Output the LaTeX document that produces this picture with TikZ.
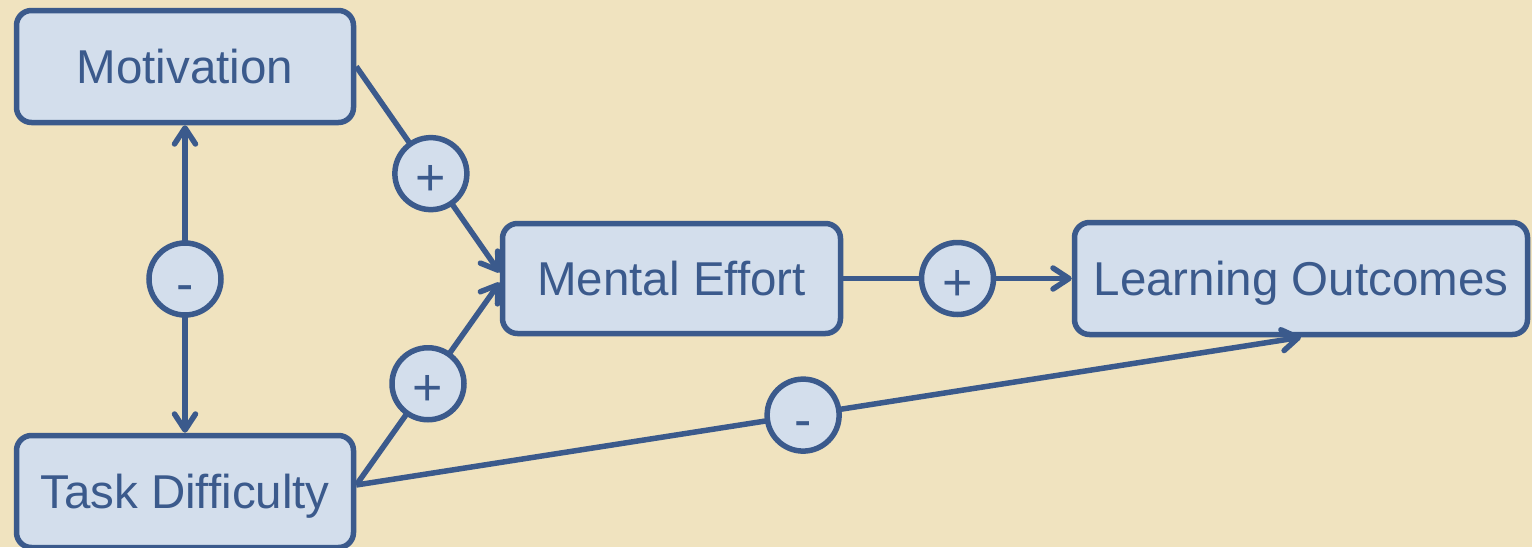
\documentclass[tikz,border=0pt]{standalone}
\usepackage{fontspec}
\setmainfont{Liberation Sans}
\usetikzlibrary{arrows.meta}
\definecolor{bgtan}{RGB}{240,227,191}
\definecolor{boxfill}{RGB}{211,222,236}
\definecolor{ink}{RGB}{59,90,140}
\tikzset{
  concept/.style={draw=ink, fill=boxfill, line width=5.5pt, rounded corners=15pt,
    inner sep=0pt, text=ink, font=\fontsize{47.5}{56}\selectfont,
    text height=34pt, text depth=0pt},
  sign/.style={circle, draw=ink, fill=boxfill, line width=5.5pt, inner sep=0pt,
    minimum size=72pt, text=ink, font=\fontsize{52}{60}\selectfont,
    text height=44pt, text depth=0pt},
  link/.style={draw=ink, line width=5.5pt},
  barb/.tip={Straight Barb[length=16pt,width=21pt,round]},
  tip/.style={-barb},
  tips/.style={barb-barb}
}
\begin{document}
\begin{tikzpicture}[x=1pt,y=-1pt]
  \fill[bgtan] (0,0) rectangle (1532,547);
  \useasboundingbox (0,0) rectangle (1532,547);
  \clip (0,0) rectangle (1532,547);

  % concept boxes
  \node[concept, minimum width=337pt, minimum height=112pt] (mot) at (185,66.5) {Motivation};
  \node[concept, minimum width=337pt, minimum height=112pt] (td) at (185,491.5) {Task Difficulty};
  \node[concept, minimum width=338pt, minimum height=110pt] (me) at (671.5,278.5) {Mental Effort};
  \node[concept, minimum width=453pt, minimum height=112pt] (lo) at (1301,278.5) {Learning Outcomes};

  % relations with their signs
  \draw[link, tips] (mot.south) -- (td.north)
    node[sign, pos=0.5] (s1) {-};
  \draw[link, tip] (mot.east) -- ([yshift=6pt]me.west)
    node[sign, pos=0.52] (s2) {+};
  \draw[link, tip] ([yshift=6.5pt]td.east) -- ([yshift=-4pt]me.west)
    node[sign, pos=0.5] (s3) {+};
  \draw[link, tip] (me.east) -- (lo.west)
    node[sign, pos=0.5] (s4) {+};
  \draw[link, tip] ([yshift=6.5pt]td.east) -- (lo.south)
    node[sign, pos=0.473] (s5) {-};
\end{tikzpicture}
\end{document}
